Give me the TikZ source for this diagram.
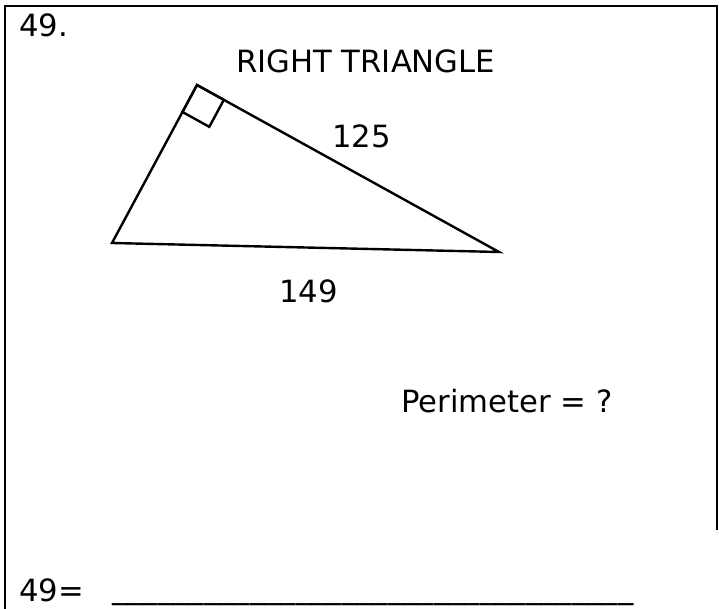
\documentclass[tikz,border=0pt]{standalone}
\usepackage{fontspec}
\setmainfont{DejaVu Sans}
\usetikzlibrary{calc}
\begin{document}
\begin{tikzpicture}[x=0.75pt,y=-0.75pt,
  lbl/.style={anchor=base west,inner sep=0pt,font=\fontsize{23}{27}\selectfont},
  edge/.style={line width=1.8pt,line join=miter},
  frame/.style={line width=2.2pt}]
\useasboundingbox (0,0) rectangle (719,609);
% frame
\coordinate (fbl) at (5,609);
\coordinate (ftl) at (5,6);
\coordinate (ftr) at (717,6);
\coordinate (fbr) at (717,530);
\draw[frame] (fbl) -- (ftl) -- (ftr) -- (fbr);
% triangle
\coordinate (A) at (197,85);
\coordinate (B) at (112,243);
\coordinate (C) at (499,252);
\draw[edge] (A) -- (B) -- (C) -- cycle;
% right angle mark
\coordinate (s1) at ($(A)!23pt!(B)$);
\coordinate (s2) at ($(A)!23pt!(C)$);
\coordinate (s3) at ($(s1)+(s2)-(A)$);
\draw[edge] (A) -- (s1) -- (s3) -- (s2) -- cycle;
% texts
\node[lbl] (num) at (19,37) {49.};
\node[lbl] (title) at (236,73) {RIGHT TRIANGLE};
\node[lbl] (hyp) at (332,148) {125};
\node[lbl] (base) at (279,303) {149};
\node[lbl] (q) at (401,413) {Perimeter = ?};
\node[lbl] (ans) at (19,602) {49=};
\node[lbl] (blank) at (112,599) {\_\_\_\_\_\_\_\_\_\_\_\_\_\_\_\_\_\_\_\_\_\_\_\_\_\_\_\_\_\_\_\_\_\_};
\end{tikzpicture}
\end{document}
